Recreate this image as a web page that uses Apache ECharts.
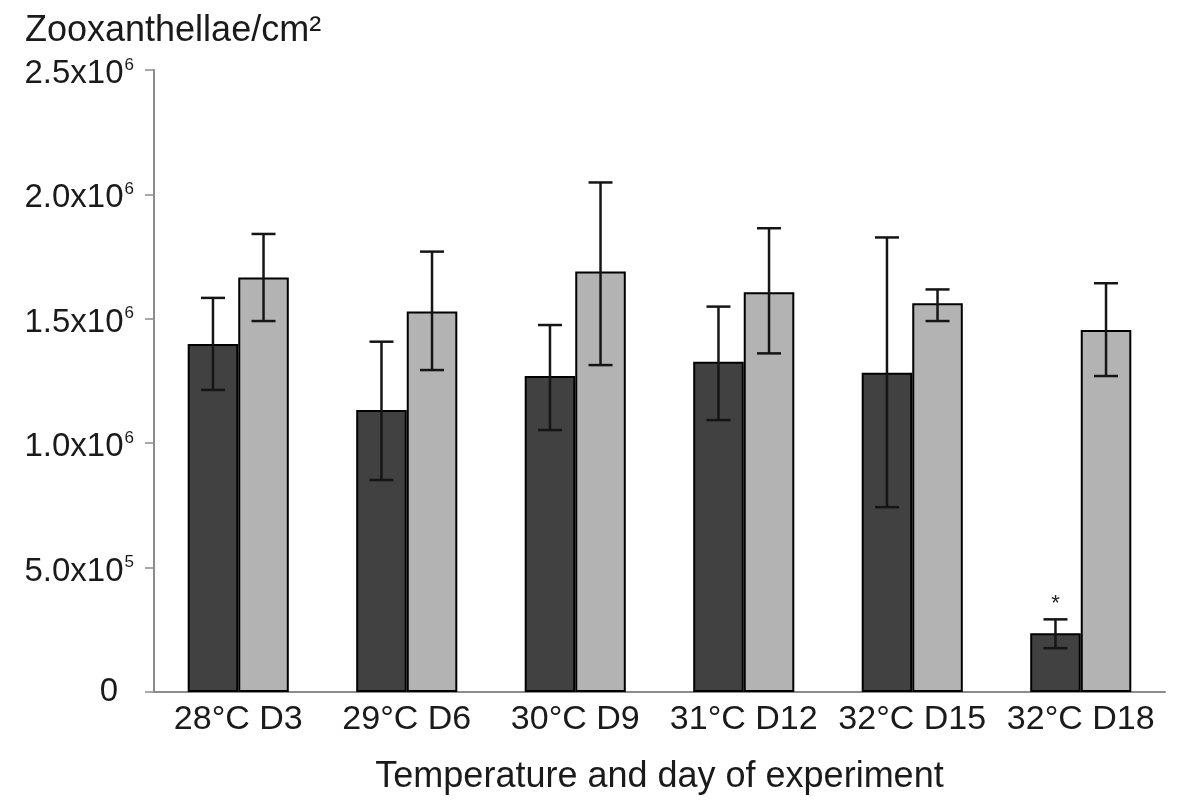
<!DOCTYPE html>
<html>
<head>
<meta charset="utf-8">
<script src="https://cdn.jsdelivr.net/npm/echarts@6/dist/echarts.min.js"></script>
<style>html,body{margin:0;padding:0;background:#fff}#c{width:1200px;height:809px}</style>
</head>
<body>
<div id="c"></div>
<script>
const categories = ['28°C D3', '29°C D6', '30°C D9', '31°C D12', '32°C D15', '32°C D18'];
const darkMeans = [1399000, 1133000, 1270000, 1327000, 1283000, 236000];
const darkLow   = [1214000, 852000, 1053000, 1093000, 743000, 176000];
const darkHigh  = [1584000, 1408000, 1475000, 1549000, 1827000, 292000];
const lightMeans = [1666000, 1529000, 1690000, 1607000, 1562000, 1455000];
const lightLow   = [1491000, 1294000, 1314000, 1361000, 1491000, 1270000];
const lightHigh  = [1841000, 1770000, 2048000, 1864000, 1618000, 1643000];
const significance = ['', '', '', '', '', '*'];
const tickValues = [0, 500000, 1000000, 1500000, 2000000, 2500000];
const tickMantissa = ['0', '5.0x10', '1.0x10', '1.5x10', '2.0x10', '2.5x10'];
const tickExponent = ['', '5', '6', '6', '6', '6'];

const FONT = '"Liberation Sans", Arial, sans-serif';
const chart = echarts.init(document.getElementById('c'), null, {renderer: 'canvas'});

function errRender(sign, marks) {
  return function (params, api) {
    const idx = api.value(0);
    const lo = api.coord([idx, api.value(1)]);
    const hi = api.coord([idx, api.value(2)]);
    const bandW = api.size([1, 0])[0];
    const x = lo[0] + sign * bandW * 0.15;
    const cap = 12;
    const style = {stroke: '#151515', lineWidth: 2.5};
    const children = [
      {type: 'line', shape: {x1: x, y1: lo[1], x2: x, y2: hi[1]}, style: style},
      {type: 'line', shape: {x1: x - cap, y1: lo[1], x2: x + cap, y2: lo[1]}, style: style},
      {type: 'line', shape: {x1: x - cap, y1: hi[1], x2: x + cap, y2: hi[1]}, style: style}
    ];
    if (marks && marks[idx]) {
      children.push({type: 'text', x: x, y: hi[1] - 4,
        style: {text: marks[idx], fill: '#222', font: '22px ' + FONT, textAlign: 'center', textVerticalAlign: 'bottom'}});
    }
    return {type: 'group', children: children};
  };
}

const yRich = {
  m: {fontSize: 33, fontFamily: FONT, color: '#1a1a1a', padding: [8, 0, 0, 0]},
  s: {fontSize: 17, fontFamily: FONT, color: '#1a1a1a', padding: [0, 0, 10, 1]},
  z: {fontSize: 33, fontFamily: FONT, color: '#1a1a1a', padding: [0, 16, 0, 0]}
};

chart.setOption({
  animation: false,
  backgroundColor: '#fff',
  title: {
    text: 'Zooxanthellae/cm²', left: 20, top: 8,
    textStyle: {fontSize: 36, fontWeight: 'normal', fontFamily: FONT, color: '#1a1a1a'}
  },
  grid: {left: 154, right: 35, top: 70, bottom: 117, containLabel: false},
  xAxis: {
    type: 'category', data: categories,
    axisLine: {lineStyle: {color: '#8c8c8c', width: 2}},
    axisTick: {show: false},
    axisLabel: {fontSize: 34, fontFamily: FONT, color: '#1a1a1a', margin: 11, interval: 0, hideOverlap: false},
    name: 'Temperature and day of experiment', nameLocation: 'middle', nameGap: 67,
    nameTextStyle: {fontSize: 36, fontFamily: FONT, color: '#1a1a1a'}
  },
  yAxis: {
    type: 'value', min: 0, max: 2500000, interval: 500000,
    axisLine: {show: true, lineStyle: {color: '#8c8c8c', width: 2}},
    axisTick: {show: true, length: 9, lineStyle: {color: '#8c8c8c', width: 1.5}},
    splitLine: {show: false},
    axisLabel: {
      margin: 20, rich: yRich,
      formatter: function (v) {
        const i = tickValues.indexOf(v);
        if (i < 0) return '';
        if (!tickExponent[i]) return '{z|' + tickMantissa[i] + '}';
        return '{m|' + tickMantissa[i] + '}{s|' + tickExponent[i] + '}';
      }
    }
  },
  series: [
    {type: 'bar', data: darkMeans, barWidth: '30%', barGap: '0%',
     itemStyle: {color: '#414141', borderColor: '#000', borderWidth: 2}},
    {type: 'bar', data: lightMeans, barWidth: '30%', barGap: '0%',
     itemStyle: {color: '#b3b3b3', borderColor: '#000', borderWidth: 2}},
    {type: 'custom', renderItem: errRender(-1, significance),
     data: categories.map((c, i) => [i, darkLow[i], darkHigh[i]]), z: 10},
    {type: 'custom', renderItem: errRender(1, null),
     data: categories.map((c, i) => [i, lightLow[i], lightHigh[i]]), z: 10}
  ]
});
</script>
</body>
</html>
